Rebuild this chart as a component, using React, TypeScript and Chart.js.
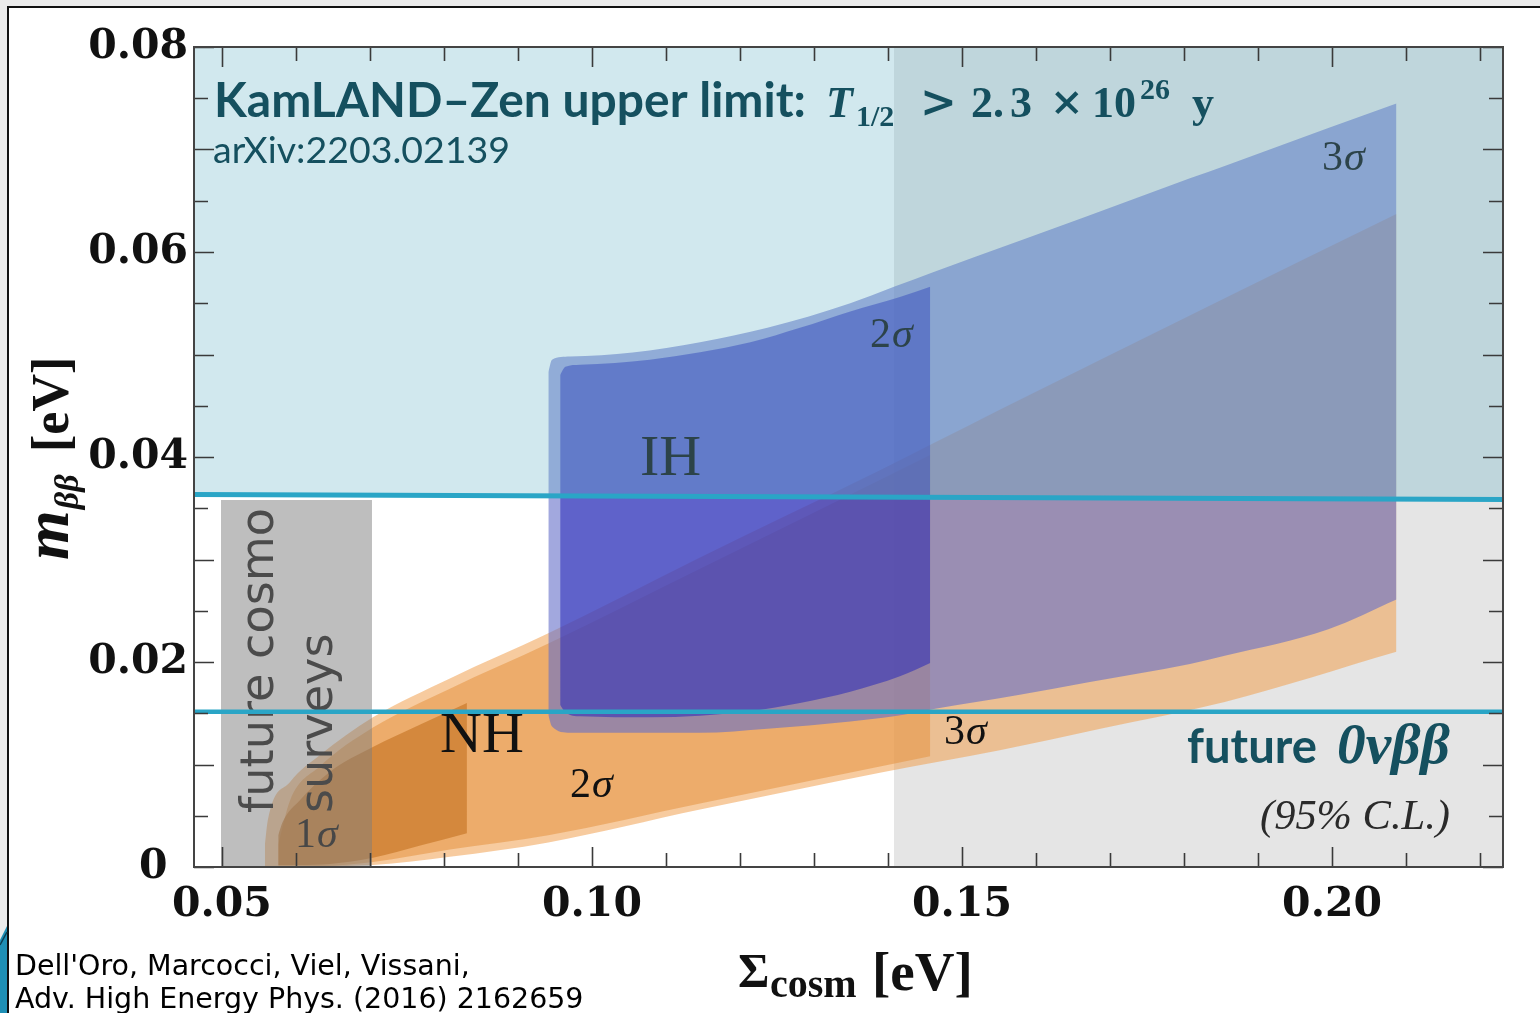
import React, { useEffect, useRef } from "react";
import { Chart, registerables } from "chart.js";

Chart.register(...registerables);

const W = 1540;
const H = 1013;

// ---- axes ----
const X_RANGE = [0.04622, 0.2231];
const Y_RANGE = [0, 0.08];
const X_TICKS = [0.05, 0.1, 0.15, 0.2];
const X_TICK_LABELS = ["0.05", "0.10", "0.15", "0.20"];
const Y_TICKS = [0, 0.02, 0.04, 0.06, 0.08];
const Y_TICK_LABELS = ["0\u2002", "0.02", "0.04", "0.06", "0.08"];
const X_MINOR_TICKS = [0.06, 0.07, 0.08, 0.09, 0.11, 0.12, 0.13, 0.14, 0.16, 0.17, 0.18, 0.19, 0.21, 0.22];
const Y_LONG_TICKS = [0, 0.01, 0.02, 0.03, 0.04, 0.05, 0.06, 0.07, 0.08];
const Y_SHORT_TICKS = [0.005, 0.015, 0.025, 0.035, 0.045, 0.055, 0.065, 0.075];

// ---- inverted hierarchy bands ----
const IH3_X = [0.0941, 0.0946, 0.097, 0.1055, 0.1146, 0.1237, 0.1349, 0.1408, 0.146, 0.1578, 0.1669, 0.1808, 0.1855, 0.1995, 0.2087];
const IH3_UP = [0.0483, 0.0495, 0.0498, 0.0502, 0.0512, 0.0526, 0.055, 0.0566, 0.058, 0.0611, 0.0635, 0.0672, 0.0684, 0.0721, 0.0745];
const IH3_LO = [0.0148, 0.0137, 0.0131, 0.0131, 0.0131, 0.0135, 0.0142, 0.0147, 0.0154, 0.0168, 0.018, 0.0198, 0.0206, 0.0232, 0.0261];

const IH2_X = [0.0957, 0.0964, 0.0984, 0.1078, 0.1214, 0.1281, 0.1349, 0.1416, 0.1457];
const IH2_UP = [0.048, 0.0488, 0.049, 0.0495, 0.0512, 0.0526, 0.0542, 0.0556, 0.0566];
const IH2_LO = [0.0158, 0.0151, 0.0147, 0.0146, 0.0152, 0.016, 0.0171, 0.0186, 0.0199];

// ---- normal hierarchy bands ----
const NH3_X = [0.0558, 0.0562, 0.0592, 0.0632, 0.0704, 0.0808, 0.0941, 0.1146, 0.1389, 0.1551, 0.1687, 0.1855, 0.2087];
const NH3_UP = [0.0022, 0.0046, 0.0083, 0.0109, 0.0146, 0.0184, 0.0228, 0.0302, 0.0387, 0.0446, 0.0495, 0.0555, 0.0637];
const NH3_LO = [0.0001, 0.0001, 0.0001, 0.0001, 0.0002, 0.001, 0.0024, 0.0056, 0.0092, 0.0114, 0.0135, 0.0161, 0.021];

const NH2_X = [0.0576, 0.0592, 0.0632, 0.0704, 0.0808, 0.0941, 0.1146, 0.1457];
const NH2_UP = [0.0022, 0.0065, 0.0098, 0.0136, 0.0174, 0.0218, 0.0291, 0.0402];
const NH2_LO = [0.0001, 0.0001, 0.0001, 0.0005, 0.0017, 0.0031, 0.0062, 0.0108];

const NH1_X = [0.0576, 0.0582, 0.0605, 0.0646, 0.0704, 0.0768, 0.0831];
const NH1_UP = [0.0031, 0.0044, 0.0065, 0.0093, 0.0117, 0.0139, 0.016];
const NH1_LO = [0.0002, 0.0002, 0.0002, 0.0003, 0.0009, 0.0021, 0.0033];

// ---- limits / regions ----
const KAMLAND_X = [0.04622, 0.2231];
const KAMLAND_Y = [0.03634, 0.03585];
const FUTURE_X = [0.04622, 0.2231];
const FUTURE_Y = [0.01515, 0.01515];
const COSMO_X = [0.04986, 0.07027];
const COSMO_Y = [0.0358, 0.0358];
const GRAY_X = [0.14081, 0.2231];
const GRAY_Y = [0.08, 0.08];

const CYAN = "#2aa5c6";
const TEAL = "#15505f";

function pts(xs: number[], ys: number[]) {
  return xs.map((x, i) => ({ x, y: ys[i] }));
}

const base: any = {
  pointRadius: 0,
  pointHoverRadius: 0,
  borderWidth: 0,
  borderColor: "rgba(0,0,0,0)",
  cubicInterpolationMode: "monotone",
};

function band(name: string, xs: number[], up: number[], lo: number[], color: string) {
  return [
    { ...base, label: name + " upper", data: pts(xs, up), fill: "+1", backgroundColor: color },
    { ...base, label: name + " lower", data: pts(xs, lo), fill: false },
  ];
}

const SERIF = '"Liberation Serif", "DejaVu Serif", serif';

function fitFont(ctx: CanvasRenderingContext2D, s: string, width: number, make: (n: number) => string) {
  ctx.font = make(100);
  const w = ctx.measureText(s).width;
  return make((100 * width) / w);
}

function sigma(ctx: CanvasRenderingContext2D, d: string, x: number, y: number, size: number, color: string) {
  ctx.fillStyle = color;
  ctx.font = `${size}px ${SERIF}`;
  ctx.fillText(d, x, y);
  const w = ctx.measureText(d).width;
  ctx.font = `italic ${size}px ${SERIF}`;
  ctx.fillText("σ", x + w + 1, y);
}

const decor = {
  id: "decor",
  beforeDraw(chart: any) {
    const ctx = chart.ctx as CanvasRenderingContext2D;
    ctx.save();
    ctx.fillStyle = "#ebebeb";
    ctx.fillRect(0, 0, W, H);
    ctx.fillStyle = "#ffffff";
    ctx.fillRect(9, 8, W - 9, H - 8);
    ctx.fillStyle = "#111";
    ctx.fillRect(7, 6, W - 7, 2);
    ctx.fillRect(7, 6, 2, H - 6);
    ctx.fillStyle = "#1f8fb5";
    ctx.beginPath();
    ctx.moveTo(0, 940);
    ctx.lineTo(7, 926);
    ctx.lineTo(7, H);
    ctx.lineTo(0, H);
    ctx.closePath();
    ctx.fill();
    ctx.strokeStyle = "#0d3e52";
    ctx.lineWidth = 1.5;
    ctx.beginPath();
    ctx.moveTo(0, 945);
    ctx.lineTo(7, 932);
    ctx.stroke();
    ctx.restore();
  },
  afterDatasetDraw(chart: any, args: any) {
    const ctx = chart.ctx as CanvasRenderingContext2D;
    const xs = chart.scales.x;
    const ys = chart.scales.y;
    const px = (v: number) => xs.getPixelForValue(v);
    const py = (v: number) => ys.getPixelForValue(v);
    if (args.index === 3) {
      ctx.save();
      ctx.textBaseline = "alphabetic";
      ctx.textAlign = "left";
      ctx.fillStyle = "#111";
      ctx.font = `58px ${SERIF}`;
      ctx.fillText("IH", px(0.10649), py(0.03824));
      ctx.fillText("NH", px(0.07946), py(0.01122));
      sigma(ctx, "3", px(0.19865), py(0.068), 42, "#111");
      sigma(ctx, "2", px(0.13757), py(0.05073), 42, "#111");
      sigma(ctx, "2", px(0.09703), py(0.00683), 42, "#111");
      sigma(ctx, "3", px(0.14757), py(0.012), 42, "#111");
      sigma(ctx, "1", px(0.05986), py(0.00195), 42, "#111");
      ctx.restore();
    }
    if (args.index === 2) {
      ctx.save();
      ctx.translate(273, 813);
      ctx.rotate(-Math.PI / 2);
      ctx.textAlign = "left";
      ctx.textBaseline = "alphabetic";
      ctx.fillStyle = "#4b4b4b";
      ctx.font = fitFont(ctx, "future cosmo", 305, (n) => `${n}px "DejaVu Sans"`);
      ctx.fillText("future cosmo", 0, 0);
      ctx.fillText("surveys", 0, 59);
      ctx.restore();
    }
  },
  afterDatasetsDraw(chart: any) {
    const ctx = chart.ctx as CanvasRenderingContext2D;
    ctx.save();
    ctx.textAlign = "left";
    ctx.textBaseline = "alphabetic";
    ctx.fillStyle = TEAL;
    ctx.font = fitFont(ctx, "KamLAND\u2013Zen upper limit:", 592, (n) => `bold ${n}px Lato`);
    ctx.fillText("KamLAND\u2013Zen upper limit:", 214, 117);
    ctx.font = `italic bold 44px ${SERIF}`;
    ctx.fillText("T", 826, 117);
    ctx.font = `bold 30px ${SERIF}`;
    ctx.fillText("1/2", 856, 126);
    ctx.font = `bold 44px "DejaVu Serif"`;
    ctx.fillText(">", 920, 117);
    ctx.font = `bold 44px ${SERIF}`;
    ctx.fillText("2.", 971, 117);
    ctx.fillText("3", 1010, 117);
    ctx.fillText("10", 1092, 117);
    ctx.fillText("y", 1192, 117);
    ctx.font = `bold 40px "DejaVu Serif"`;
    ctx.fillText("\u00d7", 1050, 115);
    ctx.font = `bold 30px ${SERIF}`;
    ctx.fillText("26", 1140, 99);
    ctx.font = fitFont(ctx, "arXiv:2203.02139", 297, (n) => `${n}px Lato`);
    ctx.fillText("arXiv:2203.02139", 213, 163);

    ctx.font = fitFont(ctx, "future", 130, (n) => `bold ${n}px Lato`);
    ctx.fillText("future", 1187, 763);
    ctx.font = fitFont(ctx, "0νββ", 113, (n) => `italic bold ${n}px ${SERIF}`);
    ctx.fillText("0νββ", 1337, 763);

    ctx.fillStyle = "#2a2a2a";
    ctx.font = fitFont(ctx, "(95% C.L.)", 190, (n) => `italic ${n}px ${SERIF}`);
    ctx.fillText("(95% C.L.)", 1260, 829);
    ctx.restore();
  },
  afterDraw(chart: any) {
    const ctx = chart.ctx as CanvasRenderingContext2D;
    const a = chart.chartArea;
    const xs = chart.scales.x;
    const ys = chart.scales.y;
    ctx.save();
    ctx.strokeStyle = "#3a3a3a";
    ctx.lineWidth = 1.6;
    const vt = (v: number, len: number) => {
      const p = Math.round(xs.getPixelForValue(v)) + 0.5;
      ctx.beginPath();
      ctx.moveTo(p, a.bottom);
      ctx.lineTo(p, a.bottom - len);
      ctx.moveTo(p, a.top);
      ctx.lineTo(p, a.top + len);
      ctx.stroke();
    };
    const ht = (v: number, len: number) => {
      const p = Math.round(ys.getPixelForValue(v)) + 0.5;
      ctx.beginPath();
      ctx.moveTo(a.left, p);
      ctx.lineTo(a.left + len, p);
      ctx.moveTo(a.right, p);
      ctx.lineTo(a.right - len, p);
      ctx.stroke();
    };
    X_TICKS.forEach((v) => vt(v, 20));
    X_MINOR_TICKS.forEach((v) => vt(v, 14));
    Y_LONG_TICKS.forEach((v) => ht(v, 20));
    Y_SHORT_TICKS.forEach((v) => ht(v, 14));
    ctx.strokeStyle = "#444";
    ctx.lineWidth = 2;
    ctx.strokeRect(a.left, a.top, a.right - a.left, a.bottom - a.top);

    // axis titles
    ctx.fillStyle = "#111";
    ctx.textAlign = "left";
    ctx.textBaseline = "alphabetic";
    ctx.save();
    ctx.translate(68, 560);
    ctx.rotate(-Math.PI / 2);
    ctx.font = `italic bold 64px ${SERIF}`;
    ctx.fillText("m", 0, 0);
    const mw = ctx.measureText("m").width;
    ctx.font = `italic bold 34px ${SERIF}`;
    ctx.fillText("ββ", mw + 1, 10);
    ctx.font = `bold 52px ${SERIF}`;
    ctx.fillText("[eV]", 108, 0);
    ctx.restore();

    ctx.font = `bold 48px ${SERIF}`;
    ctx.fillText("Σ", 738, 987);
    ctx.font = `bold 40px ${SERIF}`;
    ctx.fillText("cosm", 770, 997);
    ctx.font = `bold 55px ${SERIF}`;
    ctx.fillText("[eV]", 872, 990);

    // citation
    ctx.fillStyle = "#000";
    ctx.font = fitFont(ctx, "Dell'Oro, Marcocci, Viel, Vissani,", 455, (n) => `${n}px "DejaVu Sans"`);
    ctx.fillText("Dell'Oro, Marcocci, Viel, Vissani,", 15, 975);
    ctx.fillText("Adv. High Energy Phys. (2016) 2162659", 15, 1008);
    ctx.restore();
  },
};

export default function App() {
  const ref = useRef<HTMLCanvasElement | null>(null);
  useEffect(() => {
    if (!ref.current) return;
    const datasets: any[] = [
      { ...base, label: "future 0vbb", data: pts(FUTURE_X, FUTURE_Y), borderColor: CYAN, borderWidth: 4.5, fill: false, cubicInterpolationMode: "default", tension: 0 },
      { ...base, label: "KamLAND-Zen", data: pts(KAMLAND_X, KAMLAND_Y), borderColor: CYAN, borderWidth: 5, fill: "end", backgroundColor: "rgba(106,181,200,0.31)", cubicInterpolationMode: "default", tension: 0 },
      { ...base, label: "future cosmo surveys", data: pts(COSMO_X, COSMO_Y), fill: "origin", backgroundColor: "rgba(125,125,125,0.5)", cubicInterpolationMode: "default", tension: 0 },
      ...band("IH 2σ", IH2_X, IH2_UP, IH2_LO, "rgba(40,40,185,0.55)"),
      ...band("IH 3σ", IH3_X, IH3_UP, IH3_LO, "rgba(100,110,200,0.6)"),
      ...band("NH 1σ", NH1_X, NH1_UP, NH1_LO, "rgba(200,120,40,0.69)"),
      ...band("NH 2σ", NH2_X, NH2_UP, NH2_LO, "rgba(230,150,70,0.585)"),
      ...band("NH 3σ", NH3_X, NH3_UP, NH3_LO, "rgba(240,160,80,0.55)"),
      { ...base, label: "cosmo region", data: pts(GRAY_X, GRAY_Y), fill: "origin", backgroundColor: "#e5e5e5", cubicInterpolationMode: "default", tension: 0 },
    ];
    const chart = new Chart(ref.current, {
      type: "line",
      data: { datasets },
      plugins: [decor],
      options: {
        responsive: false,
        animation: false,
        devicePixelRatio: 1,
        events: [],
        layout: { padding: { left: 0, right: 37, top: 47, bottom: 0 } },
        plugins: { legend: { display: false }, tooltip: { enabled: false }, filler: { propagate: false } } as any,
        scales: {
          x: {
            type: "linear",
            min: X_RANGE[0],
            max: X_RANGE[1],
            afterFit: (s: any) => { s.height = 146; },
            afterBuildTicks: (s: any) => { s.ticks = X_TICKS.map((v) => ({ value: v })); },
            ticks: {
              autoSkip: false,
              maxRotation: 0,
              padding: 14,
              color: "#111",
              font: { family: "DejaVu Serif", weight: "bold", size: 41 },
              callback: (v: any) => X_TICK_LABELS[X_TICKS.findIndex((t) => Math.abs(t - v) < 1e-9)] ?? "",
            },
            grid: { display: false, drawTicks: false },
            border: { display: false },
          },
          y: {
            type: "linear",
            min: Y_RANGE[0],
            max: Y_RANGE[1],
            afterFit: (s: any) => { s.width = 194; },
            afterBuildTicks: (s: any) => { s.ticks = Y_TICKS.map((v) => ({ value: v })); },
            ticks: {
              autoSkip: false,
              padding: 6,
              color: "#111",
              font: { family: "DejaVu Serif", weight: "bold", size: 41 },
              callback: (v: any) => Y_TICK_LABELS[Y_TICKS.findIndex((t) => Math.abs(t - v) < 1e-9)] ?? "",
            },
            grid: { display: false, drawTicks: false },
            border: { display: false },
          },
        } as any,
      },
    });
    return () => chart.destroy();
  }, []);
  return (
    <div style={{ position: "fixed", left: 0, top: 0, width: W, height: H }}>
      <canvas ref={ref} width={W} height={H} style={{ display: "block", width: W, height: H }} />
    </div>
  );
}
